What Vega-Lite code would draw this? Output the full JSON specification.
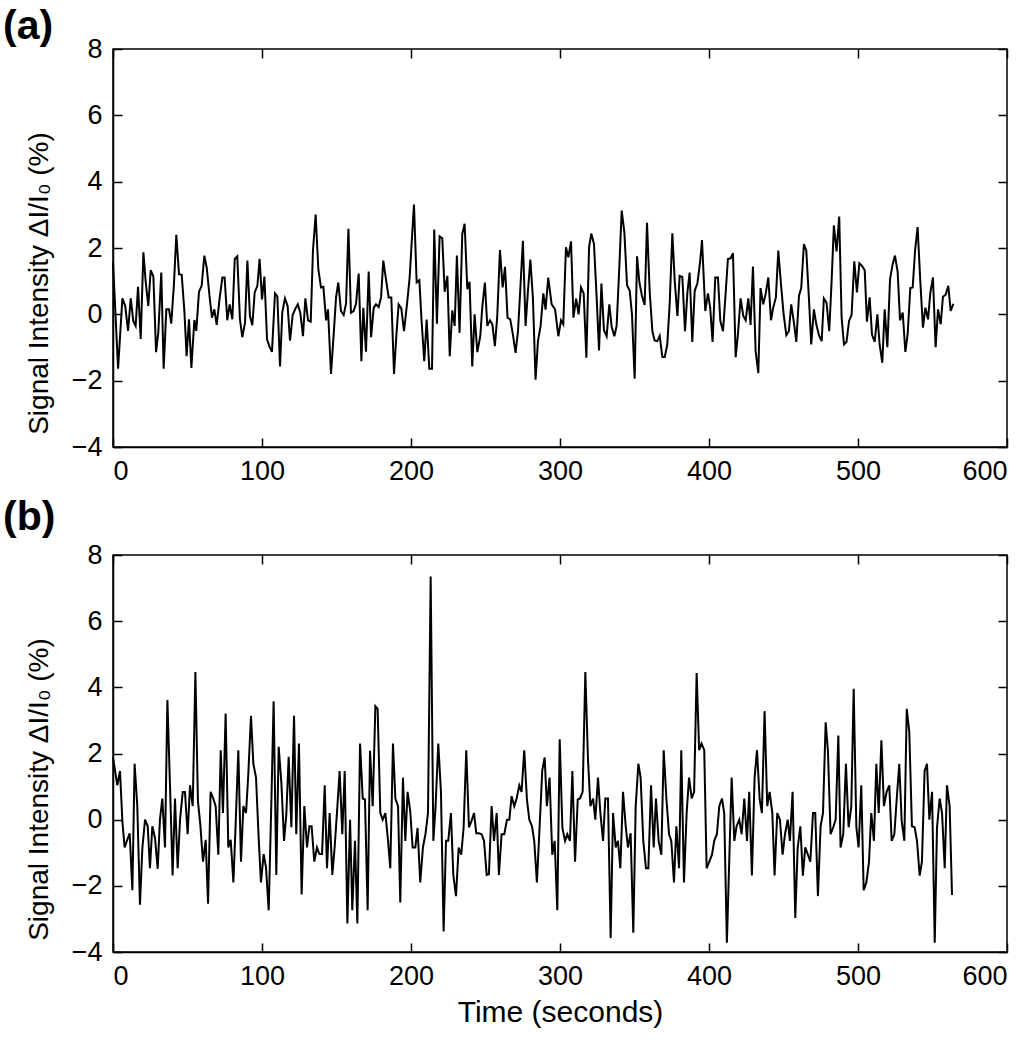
{
 "$schema": "https://vega.github.io/schema/vega-lite/v6.json",
 "background": "white",
 "padding": {"left": 2, "top": 5, "right": 5, "bottom": 5},
 "spacing": 11,
 "config": {
  "font": "Liberation Sans",
  "view": {"stroke": "black", "strokeWidth": 1.5},
  "axis": {"domainColor": "black", "domainWidth": 1.5, "tickColor": "black", "tickWidth": 1.5, "tickSize": -9, "labelFontSize": 27, "labelColor": "black", "titleFontSize": 28, "titleFontWeight": "normal", "titleColor": "black", "grid": false, "labelPadding": 20, "labelFont": "Liberation Sans", "titleFont": "Liberation Sans"},
  "title": {"fontSize": 41, "fontWeight": "bold", "anchor": "start", "frame": "group", "color": "black", "font": "Liberation Sans"}
 },
 "datasets": {
  "a": [{"t":0,"v":1.57},{"t":3.4,"v":-1.64},{"t":6.3,"v":0.48},{"t":8.2,"v":0.25},{"t":10.1,"v":-0.5},{"t":11.9,"v":0.48},{"t":13.6,"v":-0.2},{"t":15.2,"v":-0.35},{"t":16.8,"v":0.83},{"t":18.6,"v":-0.74},{"t":20.4,"v":1.87},{"t":21.9,"v":1.0},{"t":23.7,"v":0.25},{"t":25.3,"v":1.33},{"t":27.1,"v":1.14},{"t":28.9,"v":-1.14},{"t":30.4,"v":-0.55},{"t":32.4,"v":1.26},{"t":34.0,"v":-1.64},{"t":35.8,"v":0.15},{"t":37.6,"v":0.15},{"t":39.1,"v":-0.28},{"t":40.9,"v":0.91},{"t":42.5,"v":2.4},{"t":44.3,"v":1.21},{"t":46.1,"v":1.19},{"t":47.9,"v":0.1},{"t":49.4,"v":-1.26},{"t":51.0,"v":-0.15},{"t":52.6,"v":-1.62},{"t":54.6,"v":-0.17},{"t":55.9,"v":-0.5},{"t":57.7,"v":0.68},{"t":59.5,"v":0.86},{"t":61.3,"v":1.77},{"t":62.9,"v":1.41},{"t":64.9,"v":0.5},{"t":66.4,"v":-0.1},{"t":68.0,"v":0.15},{"t":69.6,"v":-0.32},{"t":71.6,"v":0.5},{"t":73.4,"v":1.11},{"t":74.9,"v":1.11},{"t":76.7,"v":-0.18},{"t":78.3,"v":0.3},{"t":80.1,"v":-0.15},{"t":81.7,"v":1.67},{"t":83.4,"v":1.75},{"t":85.2,"v":-0.15},{"t":86.8,"v":-0.69},{"t":88.6,"v":-0.25},{"t":90.2,"v":1.62},{"t":91.9,"v":-0.05},{"t":93.5,"v":-0.33},{"t":95.1,"v":0.66},{"t":96.9,"v":0.86},{"t":98.4,"v":1.67},{"t":100.0,"v":0.45},{"t":101.6,"v":1.14},{"t":103.4,"v":-0.76},{"t":105.1,"v":-0.98},{"t":106.7,"v":-1.13},{"t":108.7,"v":0.63},{"t":110.3,"v":0.54},{"t":112.1,"v":-1.57},{"t":113.6,"v":0.05},{"t":115.4,"v":0.48},{"t":117.2,"v":0.25},{"t":118.8,"v":-0.79},{"t":120.6,"v":-0.02},{"t":122.4,"v":0.17},{"t":124.0,"v":0.3},{"t":125.7,"v":0.05},{"t":127.5,"v":-0.66},{"t":129.1,"v":0.48},{"t":130.9,"v":-0.18},{"t":132.7,"v":-0.22},{"t":134.2,"v":1.92},{"t":136.0,"v":3.01},{"t":137.8,"v":1.36},{"t":139.6,"v":0.81},{"t":141.2,"v":0.83},{"t":143.0,"v":-0.18},{"t":144.3,"v":0.15},{"t":146.3,"v":-1.8},{"t":148.1,"v":-0.61},{"t":149.7,"v":0.51},{"t":151.2,"v":0.96},{"t":153.0,"v":0.1},{"t":154.8,"v":-0.02},{"t":156.4,"v":0.32},{"t":158.0,"v":2.58},{"t":159.7,"v":0.05},{"t":161.5,"v":0.1},{"t":163.1,"v":0.32},{"t":164.9,"v":1.23},{"t":166.7,"v":-1.41},{"t":168.0,"v":0.2},{"t":169.8,"v":-1.13},{"t":171.6,"v":1.29},{"t":173.2,"v":-0.69},{"t":175.0,"v":0.2},{"t":176.5,"v":0.3},{"t":178.3,"v":0.22},{"t":179.9,"v":0.51},{"t":181.4,"v":1.62},{"t":183.2,"v":1.06},{"t":185.0,"v":0.51},{"t":186.8,"v":0.51},{"t":188.6,"v":-1.8},{"t":190.2,"v":-0.61},{"t":191.7,"v":0.3},{"t":193.5,"v":0.18},{"t":195.3,"v":-0.51},{"t":197.3,"v":0.3},{"t":199.1,"v":1.11},{"t":200.5,"v":2.2},{"t":202.0,"v":3.31},{"t":203.8,"v":0.96},{"t":205.6,"v":1.03},{"t":207.1,"v":-0.2},{"t":208.9,"v":-1.41},{"t":210.5,"v":-0.16},{"t":212.3,"v":-1.64},{"t":214.1,"v":-1.64},{"t":215.6,"v":2.56},{"t":217.4,"v":-0.28},{"t":219.2,"v":2.35},{"t":221.0,"v":2.29},{"t":222.6,"v":0.68},{"t":224.4,"v":1.16},{"t":226.0,"v":-1.26},{"t":227.7,"v":0.12},{"t":229.3,"v":-0.35},{"t":230.8,"v":1.77},{"t":232.6,"v":-0.56},{"t":234.4,"v":2.42},{"t":236.0,"v":2.73},{"t":237.8,"v":0.76},{"t":239.3,"v":0.98},{"t":241.1,"v":-1.57},{"t":242.7,"v":0.0},{"t":244.5,"v":-1.14},{"t":246.5,"v":-0.66},{"t":247.8,"v":0.2},{"t":249.6,"v":0.96},{"t":251.2,"v":-0.35},{"t":253.0,"v":-0.18},{"t":254.6,"v":-0.3},{"t":256.3,"v":-0.96},{"t":257.9,"v":-0.05},{"t":259.7,"v":1.94},{"t":261.5,"v":0.81},{"t":263.1,"v":1.43},{"t":264.8,"v":-0.1},{"t":266.6,"v":-0.15},{"t":268.4,"v":-0.61},{"t":270.2,"v":-1.16},{"t":271.8,"v":-0.51},{"t":273.3,"v":0.71},{"t":275.1,"v":2.22},{"t":276.9,"v":-0.35},{"t":278.5,"v":0.71},{"t":280.1,"v":1.65},{"t":281.8,"v":0.51},{"t":283.6,"v":-1.97},{"t":285.2,"v":-0.81},{"t":287.0,"v":-0.35},{"t":288.8,"v":0.63},{"t":290.3,"v":0.14},{"t":292.1,"v":1.11},{"t":294.4,"v":0.3},{"t":296.7,"v":0.15},{"t":298.9,"v":-0.66},{"t":300.7,"v":-0.18},{"t":302.2,"v":-0.3},{"t":304.0,"v":2.02},{"t":305.6,"v":1.72},{"t":307.4,"v":2.2},{"t":309.0,"v":-0.1},{"t":310.8,"v":0.47},{"t":312.5,"v":0.0},{"t":314.1,"v":0.81},{"t":315.9,"v":0.63},{"t":317.7,"v":-1.31},{"t":319.5,"v":2.02},{"t":321.0,"v":2.44},{"t":322.8,"v":2.12},{"t":324.6,"v":0.51},{"t":326.2,"v":-1.09},{"t":327.8,"v":0.93},{"t":329.5,"v":-0.48},{"t":331.3,"v":-0.66},{"t":333.1,"v":0.3},{"t":334.7,"v":-0.38},{"t":336.5,"v":-0.66},{"t":338.0,"v":-0.35},{"t":339.8,"v":1.41},{"t":341.4,"v":3.13},{"t":343.2,"v":2.47},{"t":345.0,"v":0.88},{"t":346.8,"v":0.71},{"t":348.3,"v":0.0},{"t":350.1,"v":-1.94},{"t":351.7,"v":1.75},{"t":353.3,"v":0.96},{"t":355.0,"v":0.56},{"t":356.8,"v":0.28},{"t":358.4,"v":2.76},{"t":360.2,"v":0.68},{"t":362.0,"v":-0.51},{"t":363.5,"v":-0.79},{"t":365.3,"v":-0.81},{"t":366.9,"v":-0.65},{"t":368.7,"v":-1.29},{"t":370.3,"v":-1.29},{"t":372.0,"v":-0.91},{"t":373.6,"v":0.3},{"t":375.4,"v":2.44},{"t":377.0,"v":1.01},{"t":378.8,"v":-0.05},{"t":380.3,"v":1.16},{"t":382.1,"v":1.13},{"t":383.9,"v":-0.51},{"t":385.5,"v":0.66},{"t":387.0,"v":1.26},{"t":388.8,"v":-0.83},{"t":390.4,"v":0.71},{"t":392.2,"v":0.93},{"t":394.0,"v":1.57},{"t":395.3,"v":2.24},{"t":397.5,"v":0.1},{"t":399.3,"v":0.63},{"t":400.8,"v":0.2},{"t":402.4,"v":-0.83},{"t":404.2,"v":1.11},{"t":406.0,"v":1.11},{"t":407.6,"v":-0.2},{"t":409.4,"v":-0.51},{"t":411.1,"v":0.59},{"t":412.7,"v":1.67},{"t":414.5,"v":1.69},{"t":416.1,"v":1.84},{"t":417.9,"v":-1.29},{"t":419.4,"v":-0.61},{"t":421.2,"v":0.48},{"t":423.0,"v":-0.05},{"t":424.6,"v":-0.18},{"t":426.4,"v":0.48},{"t":427.9,"v":-0.32},{"t":429.5,"v":1.44},{"t":431.3,"v":-1.11},{"t":433.1,"v":-1.77},{"t":434.6,"v":0.79},{"t":436.4,"v":0.3},{"t":438.0,"v":0.61},{"t":439.8,"v":1.11},{"t":441.6,"v":-0.18},{"t":443.1,"v":0.2},{"t":444.9,"v":0.51},{"t":446.5,"v":1.92},{"t":448.3,"v":0.91},{"t":450.1,"v":0.0},{"t":451.9,"v":-0.63},{"t":453.6,"v":-0.51},{"t":455.2,"v":0.3},{"t":457.0,"v":-0.25},{"t":458.6,"v":-0.83},{"t":460.4,"v":0.56},{"t":461.9,"v":0.79},{"t":463.7,"v":2.12},{"t":465.3,"v":1.92},{"t":467.1,"v":0.45},{"t":468.6,"v":-0.91},{"t":470.4,"v":0.15},{"t":472.0,"v":-0.3},{"t":473.8,"v":-0.63},{"t":475.6,"v":-0.81},{"t":477.1,"v":0.48},{"t":478.9,"v":0.35},{"t":480.7,"v":-0.51},{"t":482.3,"v":1.01},{"t":483.8,"v":2.68},{"t":485.6,"v":1.9},{"t":487.4,"v":2.95},{"t":489.0,"v":-0.1},{"t":490.6,"v":-0.91},{"t":492.3,"v":-0.83},{"t":494.0,"v":-0.2},{"t":495.7,"v":-0.02},{"t":497.5,"v":1.6},{"t":499.3,"v":0.66},{"t":500.9,"v":1.54},{"t":502.7,"v":1.46},{"t":504.5,"v":1.33},{"t":506.0,"v":-0.22},{"t":507.8,"v":0.51},{"t":509.4,"v":-0.61},{"t":511.2,"v":-0.83},{"t":513.0,"v":0.0},{"t":514.5,"v":-0.91},{"t":516.3,"v":-1.46},{"t":517.9,"v":0.15},{"t":519.7,"v":-0.99},{"t":521.5,"v":1.06},{"t":523.3,"v":1.52},{"t":524.8,"v":1.77},{"t":526.6,"v":1.29},{"t":528.2,"v":-0.18},{"t":530.0,"v":0.05},{"t":531.8,"v":-1.13},{"t":533.3,"v":-0.61},{"t":535.1,"v":0.79},{"t":536.7,"v":0.81},{"t":538.3,"v":1.92},{"t":540.0,"v":2.63},{"t":541.8,"v":1.01},{"t":543.6,"v":-0.4},{"t":545.2,"v":0.2},{"t":547.0,"v":-0.15},{"t":548.5,"v":0.63},{"t":550.3,"v":1.11},{"t":552.1,"v":-0.99},{"t":553.7,"v":0.15},{"t":555.5,"v":-0.3},{"t":557.0,"v":0.53},{"t":558.8,"v":0.59},{"t":560.6,"v":0.86},{"t":562.2,"v":0.1},{"t":564.0,"v":0.32}],
  "b": [{"t":0,"v":1.88},{"t":2.9,"v":1.04},{"t":4.7,"v":1.47},{"t":6.3,"v":-0.05},{"t":7.8,"v":-0.84},{"t":9.5,"v":-0.62},{"t":11.2,"v":-0.41},{"t":13.0,"v":-2.13},{"t":14.5,"v":1.69},{"t":16.3,"v":0.41},{"t":18.1,"v":-2.57},{"t":19.7,"v":-0.86},{"t":21.5,"v":0.0},{"t":23.3,"v":-0.2},{"t":24.8,"v":-1.47},{"t":26.4,"v":-0.2},{"t":28.2,"v":-0.56},{"t":30.0,"v":-1.49},{"t":31.5,"v":0.0},{"t":33.1,"v":0.64},{"t":34.9,"v":-0.84},{"t":36.5,"v":3.62},{"t":38.3,"v":0.96},{"t":40.0,"v":-1.69},{"t":41.6,"v":0.64},{"t":43.4,"v":-1.47},{"t":45.0,"v":0.0},{"t":46.8,"v":0.84},{"t":48.3,"v":0.84},{"t":50.1,"v":-0.44},{"t":51.7,"v":1.04},{"t":53.5,"v":0.41},{"t":55.3,"v":4.46},{"t":57.0,"v":0.56},{"t":58.6,"v":-0.15},{"t":60.4,"v":-1.27},{"t":62.2,"v":-0.61},{"t":63.8,"v":-2.54},{"t":65.5,"v":0.84},{"t":67.3,"v":0.64},{"t":68.9,"v":0.41},{"t":70.7,"v":-1.06},{"t":72.3,"v":2.1},{"t":73.8,"v":0.2},{"t":75.6,"v":3.21},{"t":77.4,"v":-0.84},{"t":79.0,"v":-0.61},{"t":80.8,"v":-1.9},{"t":82.3,"v":-0.15},{"t":84.1,"v":2.1},{"t":85.9,"v":-1.27},{"t":87.5,"v":0.41},{"t":89.3,"v":0.2},{"t":90.8,"v":1.37},{"t":92.6,"v":3.14},{"t":94.2,"v":1.69},{"t":96.0,"v":1.27},{"t":97.7,"v":-0.5},{"t":99.3,"v":-1.9},{"t":101.1,"v":-1.04},{"t":102.7,"v":-1.45},{"t":104.5,"v":-2.74},{"t":106.3,"v":0.56},{"t":107.8,"v":3.58},{"t":109.6,"v":-1.67},{"t":111.2,"v":2.2},{"t":113.0,"v":1.12},{"t":114.8,"v":-0.64},{"t":116.3,"v":0.15},{"t":117.9,"v":1.9},{"t":119.7,"v":-0.23},{"t":121.5,"v":3.14},{"t":123.0,"v":-0.44},{"t":124.8,"v":2.3},{"t":126.6,"v":-2.26},{"t":128.4,"v":0.41},{"t":130.2,"v":-0.84},{"t":131.8,"v":-0.2},{"t":133.3,"v":-0.2},{"t":135.1,"v":-1.27},{"t":136.9,"v":-0.84},{"t":138.5,"v":-1.04},{"t":140.3,"v":-1.04},{"t":142.1,"v":1.04},{"t":143.6,"v":-1.47},{"t":145.4,"v":0.2},{"t":147.2,"v":-1.67},{"t":148.8,"v":-0.81},{"t":150.6,"v":0.41},{"t":152.1,"v":1.47},{"t":153.9,"v":-0.44},{"t":155.5,"v":1.47},{"t":157.3,"v":-3.14},{"t":159.1,"v":0.0},{"t":160.6,"v":-2.74},{"t":162.4,"v":-0.64},{"t":164.0,"v":-3.14},{"t":165.8,"v":2.3},{"t":167.6,"v":0.64},{"t":169.1,"v":0.61},{"t":170.9,"v":-2.74},{"t":172.5,"v":2.08},{"t":174.3,"v":0.41},{"t":176.1,"v":3.43},{"t":177.6,"v":3.35},{"t":179.4,"v":0.2},{"t":181.0,"v":0.0},{"t":182.8,"v":0.2},{"t":184.6,"v":-0.64},{"t":186.1,"v":-1.47},{"t":187.9,"v":2.3},{"t":189.5,"v":0.64},{"t":191.3,"v":0.41},{"t":192.8,"v":-2.5},{"t":194.6,"v":1.27},{"t":196.2,"v":-0.64},{"t":197.7,"v":0.84},{"t":199.5,"v":0.25},{"t":201.1,"v":-0.84},{"t":202.9,"v":-0.84},{"t":204.4,"v":-0.25},{"t":206.2,"v":-1.9},{"t":208.0,"v":-0.84},{"t":209.8,"v":-0.41},{"t":211.4,"v":0.2},{"t":213.2,"v":7.35},{"t":215.0,"v":-0.64},{"t":216.5,"v":0.41},{"t":218.3,"v":2.3},{"t":220.1,"v":0.84},{"t":221.9,"v":-3.38},{"t":223.5,"v":-0.64},{"t":225.0,"v":-0.64},{"t":226.8,"v":0.2},{"t":228.4,"v":-1.67},{"t":230.2,"v":-2.31},{"t":232.0,"v":-0.84},{"t":233.7,"v":-1.06},{"t":235.3,"v":-0.25},{"t":237.1,"v":2.1},{"t":238.9,"v":-0.23},{"t":240.7,"v":-0.03},{"t":242.3,"v":0.2},{"t":243.8,"v":-0.41},{"t":245.6,"v":-0.41},{"t":247.4,"v":-0.44},{"t":249.0,"v":-0.64},{"t":250.8,"v":-1.67},{"t":252.3,"v":-1.65},{"t":254.1,"v":0.41},{"t":255.7,"v":-0.64},{"t":257.5,"v":0.2},{"t":259.0,"v":-1.67},{"t":260.8,"v":-0.44},{"t":262.6,"v":-0.44},{"t":264.4,"v":0.0},{"t":266.0,"v":0.0},{"t":267.5,"v":0.71},{"t":269.3,"v":0.41},{"t":270.9,"v":0.64},{"t":272.7,"v":1.04},{"t":274.2,"v":0.84},{"t":276.0,"v":2.1},{"t":277.8,"v":0.61},{"t":279.4,"v":0.0},{"t":281.2,"v":-0.2},{"t":282.7,"v":-0.64},{"t":284.5,"v":-1.9},{"t":286.1,"v":-0.41},{"t":288.1,"v":1.49},{"t":289.7,"v":1.88},{"t":291.2,"v":0.41},{"t":293.0,"v":1.27},{"t":294.8,"v":-1.06},{"t":296.4,"v":-0.64},{"t":298.2,"v":-2.74},{"t":299.8,"v":2.43},{"t":301.6,"v":-0.25},{"t":303.4,"v":-0.64},{"t":304.9,"v":-0.44},{"t":306.7,"v":-0.64},{"t":308.3,"v":1.47},{"t":310.1,"v":-1.27},{"t":311.9,"v":0.61},{"t":313.4,"v":0.64},{"t":315.2,"v":0.84},{"t":317.0,"v":4.46},{"t":318.8,"v":1.8},{"t":320.4,"v":0.41},{"t":322.2,"v":0.64},{"t":323.7,"v":0.0},{"t":325.5,"v":1.27},{"t":327.1,"v":0.2},{"t":328.9,"v":-0.64},{"t":330.4,"v":0.64},{"t":332.2,"v":0.64},{"t":334.0,"v":-3.58},{"t":335.6,"v":0.2},{"t":337.4,"v":-0.84},{"t":338.9,"v":-0.64},{"t":340.5,"v":-1.47},{"t":342.3,"v":0.84},{"t":344.1,"v":-0.2},{"t":345.6,"v":-0.84},{"t":347.4,"v":-0.41},{"t":349.2,"v":-3.42},{"t":350.8,"v":0.41},{"t":352.6,"v":1.69},{"t":354.1,"v":1.27},{"t":355.9,"v":-0.64},{"t":357.7,"v":-1.47},{"t":359.3,"v":-1.47},{"t":361.1,"v":1.04},{"t":362.9,"v":-0.84},{"t":364.4,"v":0.64},{"t":366.2,"v":-0.64},{"t":368.0,"v":-1.06},{"t":369.6,"v":2.1},{"t":371.4,"v":0.64},{"t":373.2,"v":-0.44},{"t":374.7,"v":-0.64},{"t":376.5,"v":-1.9},{"t":378.1,"v":-0.2},{"t":379.9,"v":-1.47},{"t":381.4,"v":2.1},{"t":383.2,"v":-1.9},{"t":385.0,"v":0.2},{"t":386.6,"v":1.27},{"t":388.4,"v":0.64},{"t":390.0,"v":0.84},{"t":391.7,"v":4.43},{"t":393.4,"v":2.1},{"t":395.0,"v":2.3},{"t":396.8,"v":2.1},{"t":398.4,"v":-1.47},{"t":400.2,"v":-1.27},{"t":402.0,"v":-1.06},{"t":403.5,"v":-0.64},{"t":405.3,"v":-0.44},{"t":406.9,"v":0.41},{"t":408.7,"v":0.64},{"t":410.2,"v":0.2},{"t":412.0,"v":-3.72},{"t":415.2,"v":1.27},{"t":417.0,"v":-0.64},{"t":418.5,"v":-0.2},{"t":420.3,"v":0.0},{"t":421.9,"v":-0.44},{"t":423.7,"v":0.64},{"t":425.5,"v":-0.64},{"t":427.0,"v":0.84},{"t":428.8,"v":-1.69},{"t":430.6,"v":1.27},{"t":432.2,"v":2.1},{"t":434.0,"v":0.61},{"t":435.5,"v":0.2},{"t":437.3,"v":3.28},{"t":439.1,"v":0.41},{"t":440.7,"v":0.84},{"t":442.5,"v":0.2},{"t":444.0,"v":-1.69},{"t":445.8,"v":0.2},{"t":447.6,"v":0.0},{"t":449.4,"v":-1.06},{"t":451.0,"v":-0.44},{"t":452.8,"v":0.0},{"t":454.3,"v":-0.64},{"t":456.1,"v":0.84},{"t":457.9,"v":-2.97},{"t":459.5,"v":-0.86},{"t":461.3,"v":-0.2},{"t":463.0,"v":-1.69},{"t":464.6,"v":-0.84},{"t":466.4,"v":-1.06},{"t":468.0,"v":-1.27},{"t":469.8,"v":0.2},{"t":471.3,"v":0.2},{"t":473.1,"v":-2.31},{"t":474.9,"v":-0.2},{"t":476.5,"v":0.2},{"t":478.3,"v":2.94},{"t":479.8,"v":2.1},{"t":481.6,"v":-0.44},{"t":483.4,"v":-0.23},{"t":485.0,"v":0.0},{"t":486.8,"v":2.54},{"t":488.3,"v":-0.84},{"t":490.1,"v":-0.44},{"t":491.9,"v":1.69},{"t":493.7,"v":-0.23},{"t":495.5,"v":0.41},{"t":497.1,"v":3.96},{"t":498.9,"v":-0.23},{"t":500.4,"v":-0.84},{"t":502.2,"v":1.04},{"t":503.8,"v":-2.13},{"t":505.6,"v":-1.9},{"t":507.4,"v":-1.27},{"t":508.9,"v":0.2},{"t":510.7,"v":-0.64},{"t":512.3,"v":1.69},{"t":513.9,"v":0.2},{"t":515.7,"v":2.4},{"t":517.4,"v":0.41},{"t":519.2,"v":0.84},{"t":521.0,"v":1.04},{"t":522.6,"v":-0.64},{"t":524.4,"v":-0.44},{"t":526.0,"v":0.64},{"t":527.7,"v":1.69},{"t":529.3,"v":-0.03},{"t":531.1,"v":-0.64},{"t":532.7,"v":3.35},{"t":534.4,"v":2.67},{"t":536.2,"v":-0.2},{"t":538.0,"v":-0.23},{"t":539.6,"v":-0.64},{"t":541.4,"v":-1.69},{"t":542.9,"v":-1.27},{"t":544.7,"v":1.47},{"t":546.3,"v":1.69},{"t":547.9,"v":0.0},{"t":549.7,"v":0.84},{"t":551.5,"v":-3.72},{"t":553.0,"v":-0.25},{"t":554.8,"v":0.64},{"t":556.4,"v":0.2},{"t":558.2,"v":-1.47},{"t":559.7,"v":1.04},{"t":561.5,"v":0.41},{"t":563.1,"v":-2.28}]
 },
 "vconcat": [
  {
   "title": {"text": "(a)", "dx": -110, "offset": -13},
   "width": 894, "height": 398,
   "data": {"name": "a"},
   "layer": [
    {"mark": {"type": "line", "color": "black", "strokeWidth": 2},
     "encoding": {
      "x": {"field": "t", "type": "quantitative", "scale": {"domain": [0, 600], "nice": false}, "axis": {"values": [0, 100, 200, 300, 400, 500, 600], "title": null}},
      "y": {"field": "v", "type": "quantitative", "scale": {"domain": [-4, 8], "nice": false}, "axis": {"values": [-4, -2, 0, 2, 4, 6, 8], "title": "Signal Intensity ΔI/I₀ (%)", "titlePadding": 18, "titleY": 234}}
     }},
    {"mark": {"type": "line", "color": "black", "strokeOpacity": 0},
     "encoding": {
      "x": {"field": "t", "type": "quantitative", "scale": {"domain": [0, 600], "nice": false}, "axis": {"orient": "top", "values": [0, 100, 200, 300, 400, 500, 600], "labels": false, "domain": false, "title": null}},
      "y": {"field": "v", "type": "quantitative", "scale": {"domain": [-4, 8], "nice": false}, "axis": {"orient": "right", "values": [-4, -2, 0, 2, 4, 6, 8], "labels": false, "domain": false, "title": null}}
     }}
   ],
   "resolve": {"axis": {"x": "independent", "y": "independent"}}
  },
  {
   "title": {"text": "(b)", "dx": -110, "offset": 2},
   "width": 894, "height": 397,
   "data": {"name": "b"},
   "layer": [
    {"mark": {"type": "line", "color": "black", "strokeWidth": 2},
     "encoding": {
      "x": {"field": "t", "type": "quantitative", "scale": {"domain": [0, 600], "nice": false}, "axis": {"values": [0, 100, 200, 300, 400, 500, 600], "title": "Time (seconds)", "titlePadding": 8, "titleFontSize": 30}},
      "y": {"field": "v", "type": "quantitative", "scale": {"domain": [-4, 8], "nice": false}, "axis": {"values": [-4, -2, 0, 2, 4, 6, 8], "title": "Signal Intensity ΔI/I₀ (%)", "titlePadding": 18, "titleY": 234}}
     }},
    {"mark": {"type": "line", "color": "black", "strokeOpacity": 0},
     "encoding": {
      "x": {"field": "t", "type": "quantitative", "scale": {"domain": [0, 600], "nice": false}, "axis": {"orient": "top", "values": [0, 100, 200, 300, 400, 500, 600], "labels": false, "domain": false, "title": null}},
      "y": {"field": "v", "type": "quantitative", "scale": {"domain": [-4, 8], "nice": false}, "axis": {"orient": "right", "values": [-4, -2, 0, 2, 4, 6, 8], "labels": false, "domain": false, "title": null}}
     }}
   ],
   "resolve": {"axis": {"x": "independent", "y": "independent"}}
  }
 ]
}
